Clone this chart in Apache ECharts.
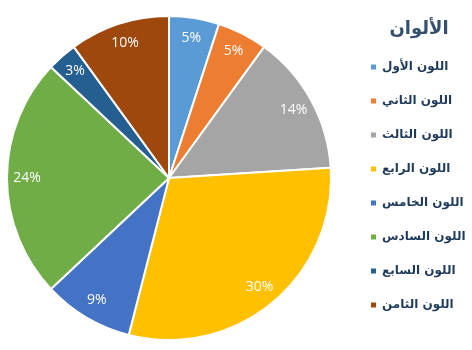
<!DOCTYPE html>
<html>
<head>
<meta charset="utf-8">
<script src="https://cdn.jsdelivr.net/npm/echarts@6/dist/echarts.min.js"></script>
<style>
  html, body { margin: 0; padding: 0; background: #fff; }
  #chart { width: 472px; height: 350px; }
</style>
</head>
<body>
<div id="chart"></div>
<script>
// الفئات والقيم (بالنسبة المئوية)
const names = ['اللون الأول', 'اللون الثاني', 'اللون الثالث', 'اللون الرابع',
               'اللون الخامس', 'اللون السادس', 'اللون السابع', 'اللون الثامن'];
const values = [5, 5, 14, 30, 9, 24, 3, 10];
const colors = ['#5B9BD5', '#ED7D31', '#A5A5A5', '#FFC000',
                '#4472C4', '#70AD47', '#255E91', '#9E480E'];
const legendTitle = 'الألوان';

const pieData = names.map((n, i) => ({ name: n, value: values[i] }));

const chart = echarts.init(document.getElementById('chart'));
const option = {
  animation: false,
  color: colors,
  //عنوان وسيلة الإيضاح
  title: {
    text: legendTitle,
    left: 414,
    top: 15,
    textAlign: 'center',
    textStyle: {
      fontFamily: 'DejaVu Sans',
      fontSize: 18,
      fontWeight: 'bold',
      color: '#34506E'
    }
  },
  legend: {
    orient: 'vertical',
    left: 364,
    top: 54,
    icon: 'rect',
    itemWidth: 7,
    itemHeight: 7,
    itemGap: 18,
    data: names,
    textStyle: {
      fontFamily: 'DejaVu Sans',
      fontSize: 12,
      fontWeight: 'bold',
      lineHeight: 16,
      color: '#1F3B5C'
    }
  },
  series: [
    {
      // الدائرة نفسها
      type: 'pie',
      center: [169, 178],
      radius: [0, 162],
      startAngle: 90,
      clockwise: true,
      label: { show: false },
      labelLine: { show: false },
      emphasis: { disabled: true },
      itemStyle: { borderColor: '#fff', borderWidth: 2 },
      data: pieData
    },
    {
      // حلقة شفافة لوضع النسب قرب الحافة
      type: 'pie',
      center: [169, 178],
      radius: [116, 162],
      startAngle: 90,
      clockwise: true,
      silent: true,
      emphasis: { disabled: true },
      itemStyle: { color: 'rgba(0,0,0,0)', borderWidth: 0 },
      labelLine: { show: false },
      label: {
        show: true,
        position: 'inside',
        formatter: '{c}%',
        color: '#fff',
        fontFamily: 'Open Sans',
        fontSize: 14
      },
      data: pieData
    }
  ]
};
chart.setOption(option);
</script>
</body>
</html>
